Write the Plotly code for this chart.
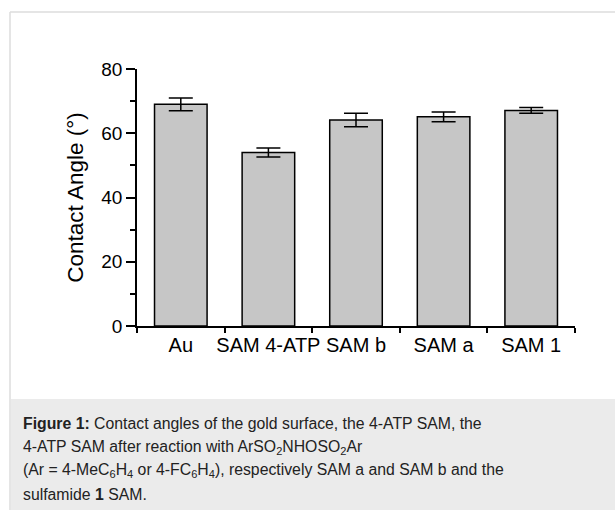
import plotly.graph_objects as go

categories = ["Au", "SAM 4-ATP", "SAM b", "SAM a", "SAM 1"]
contact_angle = [69.0, 54.0, 64.1, 65.1, 67.1]
error = [2.0, 1.4, 2.1, 1.5, 0.9]
y_ticks = [0, 20, 40, 60, 80]

caption_lines = [
    "<b>Figure 1:</b> Contact angles of the gold surface, the 4-ATP SAM, the",
    "4-ATP SAM after reaction with ArSO<sub>2</sub>NHOSO<sub>2</sub>Ar",
    "(Ar = 4-MeC<sub>6</sub>H<sub>4</sub> or 4-FC<sub>6</sub>H<sub>4</sub>), respectively SAM a and SAM b and the",
    "sulfamide <b>1</b> SAM.",
]

L, R, T, B = 137, 575, 69, 326
W, H = 615, 510

def px(x):
    return (x - L) / (R - L)

def py(y):
    return (B - y) / (B - T)

fig = go.Figure()
fig.add_trace(go.Bar(
    x=categories, y=contact_angle, width=0.6,
    marker=dict(color="#c6c6c6", line=dict(color="black", width=1.5)),
    error_y=dict(type="data", array=error, visible=True, color="black", thickness=1.5, width=12),
    showlegend=False,
))

font = "Liberation Sans, Arial, sans-serif"
fig.update_layout(
    width=W, height=H,
    margin=dict(l=L, r=W - R, t=T, b=H - B, autoexpand=False),
    paper_bgcolor="white", plot_bgcolor="white",
    font=dict(family=font, color="black"),
    bargap=0.4,
)
fig.update_xaxes(
    type="category", range=[-0.5, 4.5],
    showline=True, linecolor="black", linewidth=1.5,
    ticks="outside", tickson="boundaries", ticklen=5, tickwidth=1.5, tickcolor="black",
    tickangle=0, tickfont=dict(size=20, family=font), showgrid=False, zeroline=False,
)
fig.update_yaxes(
    range=[0, 80], tickvals=y_ticks,
    showline=True, linecolor="black", linewidth=1.5,
    ticks="outside", ticklen=9, tickwidth=1.5, tickcolor="black",
    minor=dict(ticks="outside", ticklen=5, dtick=10, tickcolor="black", tickwidth=1.5, showgrid=False),
    tickfont=dict(size=19, family=font), showgrid=False, zeroline=False,
    title=dict(text="Contact Angle (°)", font=dict(size=22.5, family=font), standoff=11),
)

shapes = [
    dict(type="rect", xref="paper", yref="paper", x0=px(11), x1=px(616), y0=py(399), y1=py(511),
         fillcolor="#ebebeb", line=dict(width=0), layer="below"),
    dict(type="line", xref="paper", yref="paper", x0=px(10), x1=px(616), y0=py(12), y1=py(12),
         line=dict(color="#dcdcdc", width=1.5)),
    dict(type="line", xref="paper", yref="paper", x0=px(10), x1=px(10), y0=py(12), y1=py(511),
         line=dict(color="#dcdcdc", width=1.5)),
]
fig.update_layout(shapes=shapes)

centers = [423, 447, 470, 494]
for txt, yc in zip(caption_lines, centers):
    fig.add_annotation(
        text=txt, xref="paper", yref="paper", x=px(21), y=py(yc),
        xanchor="left", yanchor="middle", showarrow=False, align="left",
        font=dict(size=15.8, family=font, color="#222222"),
    )

fig.write_html("out.html", config={"displayModeBar": False},
               post_script="document.body.style.margin='0';document.body.style.overflow='hidden';")
